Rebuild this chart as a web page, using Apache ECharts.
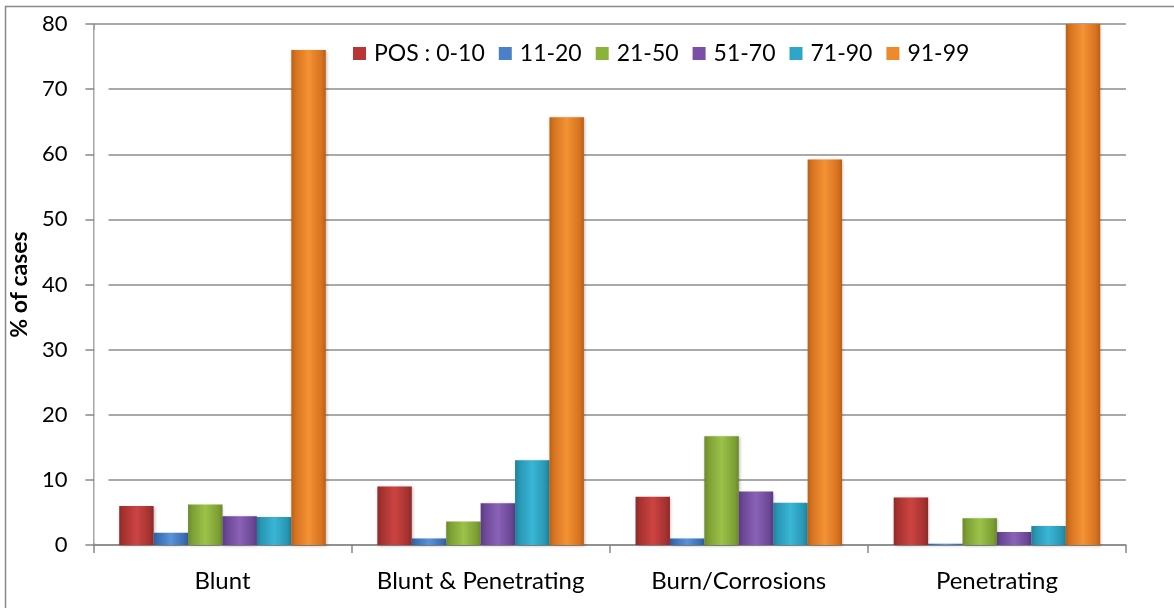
<!DOCTYPE html>
<html>
<head>
<meta charset="utf-8">
<script src="https://cdn.jsdelivr.net/npm/echarts@6/dist/echarts.min.js"></script>
<style>
html,body{margin:0;padding:0;background:#fff;}
#chart{width:1174px;height:608px;}
</style>
</head>
<body>
<div id="chart"></div>
<script>
const categories = ['Blunt', 'Blunt & Penetrating', 'Burn/Corrosions', 'Penetrating'];
const seriesNames = ['POS : 0-10', '11-20', '21-50', '51-70', '71-90', '91-99'];
const pos0_10  = [6.0, 9.0, 7.4, 7.3];
const pos11_20 = [1.9, 1.0, 1.0, 0.2];
const pos21_50 = [6.2, 3.6, 16.7, 4.1];
const pos51_70 = [4.4, 6.4, 8.2, 2.0];
const pos71_90 = [4.3, 13.0, 6.5, 2.9];
const pos91_99 = [76.0, 65.7, 59.2, 84.0];
const yTicks = [0, 10, 20, 30, 40, 50, 60, 70, 80];

const FONT = 'Lato, "Open Sans", sans-serif';
const palette = [
  ['#8e2a28', '#cc4442', '#a53230'],
  ['#2f5f9e', '#5a93d8', '#3a6eb3'],
  ['#6a8a2a', '#9cc24a', '#7d9f33'],
  ['#5a3a82', '#8a62b8', '#6b4796'],
  ['#1e7f99', '#3ab6d6', '#2896b3'],
  ['#b85f15', '#f49235', '#d6721f']
];
const legendColors = ['#b83436', '#4a80c8', '#8ab33a', '#7a4fa8', '#2ea6c8', '#ee8a2c'];
const allData = [pos0_10, pos11_20, pos21_50, pos51_70, pos71_90, pos91_99];

function grad(c) {
  return new echarts.graphic.LinearGradient(0, 0, 1, 0, [
    {offset: 0, color: c[0]},
    {offset: 0.12, color: c[2]},
    {offset: 0.5, color: c[1]},
    {offset: 0.88, color: c[2]},
    {offset: 1, color: c[0]}
  ]);
}

const series = seriesNames.map((n, i) => ({
  name: n,
  type: 'bar',
  data: allData[i],
  barGap: '0%',
  barCategoryGap: '20%',
  clip: true,
  itemStyle: {color: grad(palette[i]), shadowColor: 'rgba(0,0,0,0.25)', shadowBlur: 3, shadowOffsetX: 1, shadowOffsetY: 1},
  emphasis: {disabled: true}
}));

const chart = echarts.init(document.getElementById('chart'), null, {renderer: 'canvas'});
chart.setOption({
  animation: false,
  color: legendColors,
  grid: {left: 93, right: 48, top: 24, bottom: 63, containLabel: false},
  legend: {
    left: 348, top: 37,
    itemWidth: 13, itemHeight: 13, itemGap: 14,
    icon: 'rect',
    textStyle: {fontFamily: FONT, fontSize: 23, color: '#000', padding: [0, 0, 0, 3]},
    data: seriesNames.map((n, i) => ({name: n, itemStyle: {color: legendColors[i]}}))
  },
  xAxis: {
    type: 'category',
    data: categories,
    axisLine: {lineStyle: {color: '#888', width: 1.5}},
    axisTick: {show: true, length: 8, interval: 0, lineStyle: {color: '#888', width: 1.5}},
    axisLabel: {fontFamily: FONT, fontSize: 24, color: '#000', margin: 24, interval: 0, hideOverlap: false}
  },
  yAxis: {
    type: 'value',
    min: 0, max: 80, interval: 10,
    name: '% of cases',
    nameLocation: 'middle',
    nameGap: 45,
    nameTextStyle: {fontFamily: FONT, fontSize: 23, fontWeight: 'bold', color: '#000'},
    axisLine: {show: true, lineStyle: {color: '#888', width: 1.5}},
    axisTick: {show: true, length: 8, lineStyle: {color: '#888', width: 1.5}},
    axisLabel: {fontFamily: FONT, fontSize: 22, color: '#000', margin: 26,
      formatter: v => yTicks.includes(v) ? String(v) : ''},
    splitLine: {show: true, lineStyle: {color: '#8c8c8c', width: 1.5}}
  },
  graphic: [{
    type: 'rect',
    shape: {x: 5.5, y: 6.5, width: 1300, height: 700},
    style: {fill: 'none', stroke: '#888', lineWidth: 1.5},
    silent: true, z: -1
  }, {
    type: 'rect',
    shape: {x: 94.5, y: 30, width: 14, height: 513},
    style: {fill: '#fff'},
    silent: true, z: 5
  }],
  series: series
});
</script>
</body>
</html>
